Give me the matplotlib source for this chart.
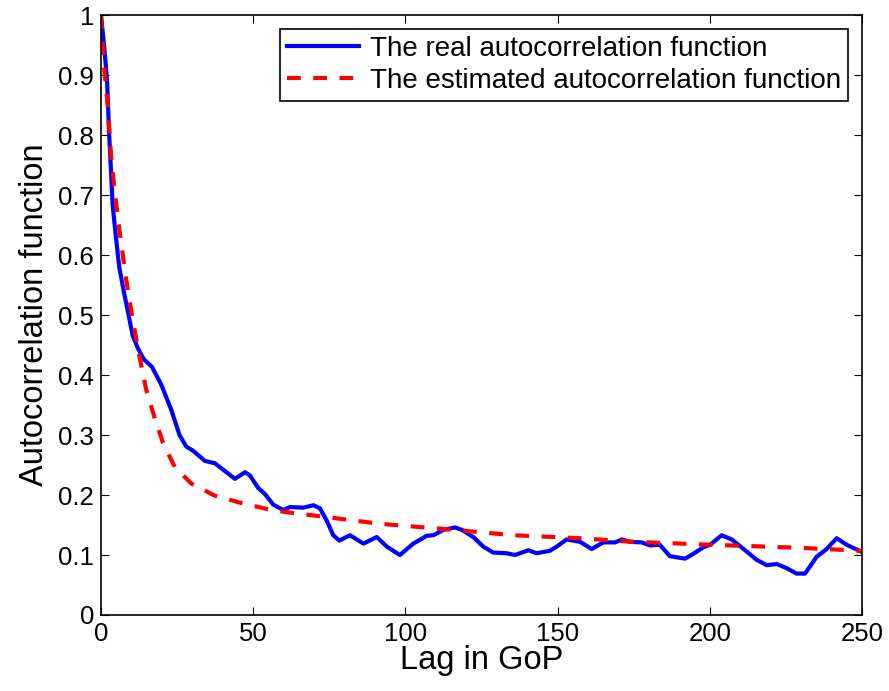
import numpy as np
import matplotlib
matplotlib.use("Agg")
import matplotlib.pyplot as plt

plt.rcParams['font.family'] = ['Liberation Sans', 'DejaVu Sans']

# real autocorrelation
lag_real = [0, 1.1, 2.0, 2.7, 3.3, 3.8, 4.9, 6.0, 7.7, 8.8, 10.4, 12.1, 14.1, 16.7,
            19.8, 23.1, 25.8, 28.0, 30.2, 34.1, 37.4, 40.7, 44.0, 47.3, 48.9, 51.6,
            53.8, 56.6, 59.9, 62.1, 66.5, 69.8, 71.9, 74.1, 76.3, 78.3, 81.8, 86.2,
            90.6, 93.9, 98.2, 102.6, 107.0, 109.2, 112.5, 116.3, 118.5, 122.3, 125.6,
            128.9, 133.3, 136.0, 140.4, 143.1, 147.5, 149.7, 153.0, 157.4, 161.2,
            165.0, 168.9, 171.1, 173.8, 177.6, 180.4, 183.6, 186.9, 191.9, 194.6,
            197.9, 200.1, 203.9, 207.2, 211.6, 215.4, 218.7, 222.0, 225.3, 228.5,
            231.3, 235.1, 238.4, 241.7, 245.0, 250.0]
acf_real = [1.0, 0.945, 0.89, 0.80, 0.74, 0.685, 0.63, 0.58, 0.534, 0.507, 0.466, 0.445,
            0.426, 0.414, 0.384, 0.342, 0.30, 0.281, 0.274, 0.257, 0.253, 0.24, 0.227,
            0.238, 0.233, 0.212, 0.202, 0.184, 0.175, 0.18, 0.179, 0.183, 0.178, 0.158,
            0.133, 0.124, 0.133, 0.119, 0.130, 0.114, 0.100, 0.119, 0.132, 0.133, 0.142,
            0.146, 0.142, 0.130, 0.114, 0.104, 0.103, 0.100, 0.108, 0.103, 0.107, 0.114,
            0.126, 0.122, 0.110, 0.121, 0.121, 0.126, 0.122, 0.121, 0.116, 0.117, 0.098,
            0.094, 0.102, 0.113, 0.117, 0.133, 0.126, 0.108, 0.092, 0.083, 0.085, 0.078,
            0.069, 0.069, 0.097, 0.110, 0.128, 0.117, 0.105]

# estimated autocorrelation
lag_est = [0, 1.1, 2.2, 3.3, 4.4, 6.0, 8.2, 10.4, 12.6, 14.8, 17.6, 20.3, 24.2, 29.7,
           37.4, 47.3, 56.0, 63.2, 73.0, 91.7, 113.6, 135.5, 157.4, 174.9, 201.2,
           229.6, 250.0]
acf_est = [1.0, 0.91, 0.85, 0.767, 0.712, 0.644, 0.562, 0.493, 0.432, 0.377, 0.329,
           0.288, 0.247, 0.219, 0.199, 0.185, 0.175, 0.170, 0.164, 0.152, 0.143, 0.133,
           0.128, 0.122, 0.117, 0.112, 0.107]

fig = plt.figure(figsize=(8.89, 6.91), dpi=100)
ax = fig.add_axes([0.1136, 0.11, 0.856, 0.868])

ax.plot(lag_real, acf_real, color='#0000ff', lw=3.0, solid_joinstyle='round',
        label='The real autocorrelation function')
ax.plot(lag_est, acf_est, color='#ff0000', lw=3.0, ls=(0, (3.3, 3.0)),
        label='The estimated autocorrelation function')

ax.set_xlim(0, 250)
ax.set_ylim(0, 1)
ax.set_xticks([0, 50, 100, 150, 200, 250])
ax.set_yticks(np.arange(0, 1.01, 0.1))
ax.set_yticklabels(['0', '0.1', '0.2', '0.3', '0.4', '0.5', '0.6', '0.7', '0.8', '0.9', '1'])
ax.tick_params(direction='in', top=True, right=True, labelsize=18.5, length=6, width=0.8, pad=5)
for s in ax.spines.values():
    s.set_linewidth(1.2)

ax.set_xlabel('Lag in GoP', fontsize=23.5, labelpad=-1)
ax.set_ylabel('Autocorrelation function', fontsize=23.5, labelpad=6)

leg = ax.legend(loc='upper right', fontsize=20, fancybox=False, framealpha=1,
                edgecolor='black', handlelength=2.6, handletextpad=0.4,
                borderpad=0.25, labelspacing=0.2, borderaxespad=0.5)
leg.get_frame().set_linewidth(1.2)

fig.savefig('out.png', dpi=100)
